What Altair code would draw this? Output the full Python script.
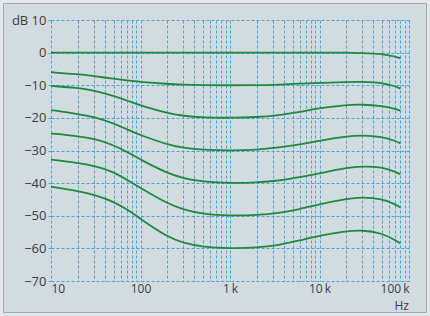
import altair as alt
import pandas as pd

freqs = [10, 20, 30, 50, 76, 100, 200, 300, 500, 1000, 2000, 3500, 6000,
         10000, 20000, 30000, 50000, 70000, 80000]

curve0 = [0, 0, 0, 0, 0, 0, 0, 0, 0, 0, 0, 0, 0, 0, 0, -0.1, -0.4, -1.2, -1.7]
curve1 = [-6.0, -6.6, -7.2, -8.0, -8.6, -9.0, -9.6, -9.8, -10, -10, -10, -9.8, -9.5, -9.3, -9.0, -8.9, -9.2, -10.3, -11.0]
curve2 = [-10.2, -10.8, -11.6, -13.2, -15.0, -16.2, -18.6, -19.4, -19.9, -20, -19.8, -19.2, -18.2, -17.0, -16.0, -15.9, -16.3, -17.2, -17.8]
curve3 = [-17.6, -18.8, -19.7, -21.6, -23.9, -25.3, -28.2, -29.2, -29.8, -30, -29.8, -29.1, -28.2, -27.0, -25.7, -25.3, -25.8, -27.0, -27.8]
curve4 = [-24.8, -25.6, -26.3, -28.3, -30.9, -32.8, -37.0, -38.5, -39.6, -40, -39.8, -39.3, -38.2, -37.0, -35.3, -34.8, -35.1, -36.5, -37.3]
curve5 = [-32.8, -33.8, -34.6, -36.5, -39.5, -41.5, -46.3, -48.1, -49.5, -50, -49.8, -49.2, -48.0, -46.5, -44.8, -44.3, -44.8, -46.5, -47.4]
curve6 = [-41.1, -42.4, -43.5, -45.6, -48.6, -51.0, -56.5, -58.3, -59.6, -60, -59.8, -59.0, -57.6, -56.1, -54.7, -54.4, -55.3, -57.5, -58.4]

curves = [curve0, curve1, curve2, curve3, curve4, curve5, curve6]

x_grid = [m * 10 ** e for e in range(1, 5) for m in range(1, 10)] + [100000]
y_ticks = [-70, -60, -50, -40, -30, -20, -10, 0, 10]
unit_label = ["Hz"]

rows = []
for i, c in enumerate(curves):
    for f, v in zip(freqs, c):
        rows.append({"f": f, "db": v, "curve": f"c{i}"})
df = pd.DataFrame(rows)

GRID = "#4ba3d6"
TXT = "#3a3d40"
FONT = "Open Sans"

x_axis = alt.Axis(
    values=x_grid,
    grid=True, gridColor=GRID, gridDash=[3, 2], gridWidth=1, gridOpacity=1,
    domain=False, ticks=False,
    labelExpr="indexof([10,100,1000,10000,100000], datum.value) >= 0 ? "
              "(datum.value >= 1000 ? (datum.value/1000) + '\u2009k' : '' + datum.value) : ''",
    labelFlush=True, labelOverlap=False, labelPadding=2,
    labelFont=FONT, labelFontSize=12, labelColor=TXT,
    title=None,
)

y_axis = alt.Axis(
    values=y_ticks,
    grid=True, gridColor=GRID, gridDash=[3, 2], gridWidth=1, gridOpacity=1,
    domain=False, ticks=True, tickSize=3, tickColor=GRID,
    labelExpr="datum.value == 10 ? 'dB 10' : format(datum.value, 'd')",
    labelPadding=2, labelFont=FONT, labelFontSize=13, labelColor=TXT,
    title=None,
)

frame_data = alt.Data(values=[{"a": 1}])
outer = alt.Chart(frame_data).mark_rect(
    fill=None, stroke="#e4e7e9", strokeWidth=6, clip=False
).encode(
    x=alt.value(-51), x2=alt.value(379), y=alt.value(-20), y2=alt.value(296)
)
inner = alt.Chart(frame_data).mark_rect(
    fill=None, stroke="#a3abb0", strokeWidth=1, clip=False
).encode(
    x=alt.value(-47.5), x2=alt.value(375.5), y=alt.value(-16.5), y2=alt.value(292.5)
)

lines = alt.Chart(df).mark_line(
    color="#1c8a3c", strokeWidth=1.8, interpolate="basis", clip=False
).encode(
    x=alt.X("f:Q", scale=alt.Scale(type="log", domain=[10, 100000], nice=False), axis=x_axis),
    y=alt.Y("db:Q", scale=alt.Scale(domain=[-70, 10], nice=False, zero=False), axis=y_axis),
    detail="curve:N",
)

hz = alt.Chart(pd.DataFrame({"t": unit_label})).mark_text(
    align="right", baseline="middle", font=FONT, fontSize=12, color=TXT, clip=False
).encode(
    text="t:N", x=alt.value(358), y=alt.value(286)
)

chart = alt.layer(outer, inner, lines, hz).properties(
    width=358, height=261,
    padding={"left": 51, "top": 20, "right": 21, "bottom": 35},
    autosize=alt.AutoSizeParams(type="none"),
    background="#d2dbe0",
).configure_view(stroke=None)

chart.save("out.html", embed_options={"renderer": "svg", "actions": False})
